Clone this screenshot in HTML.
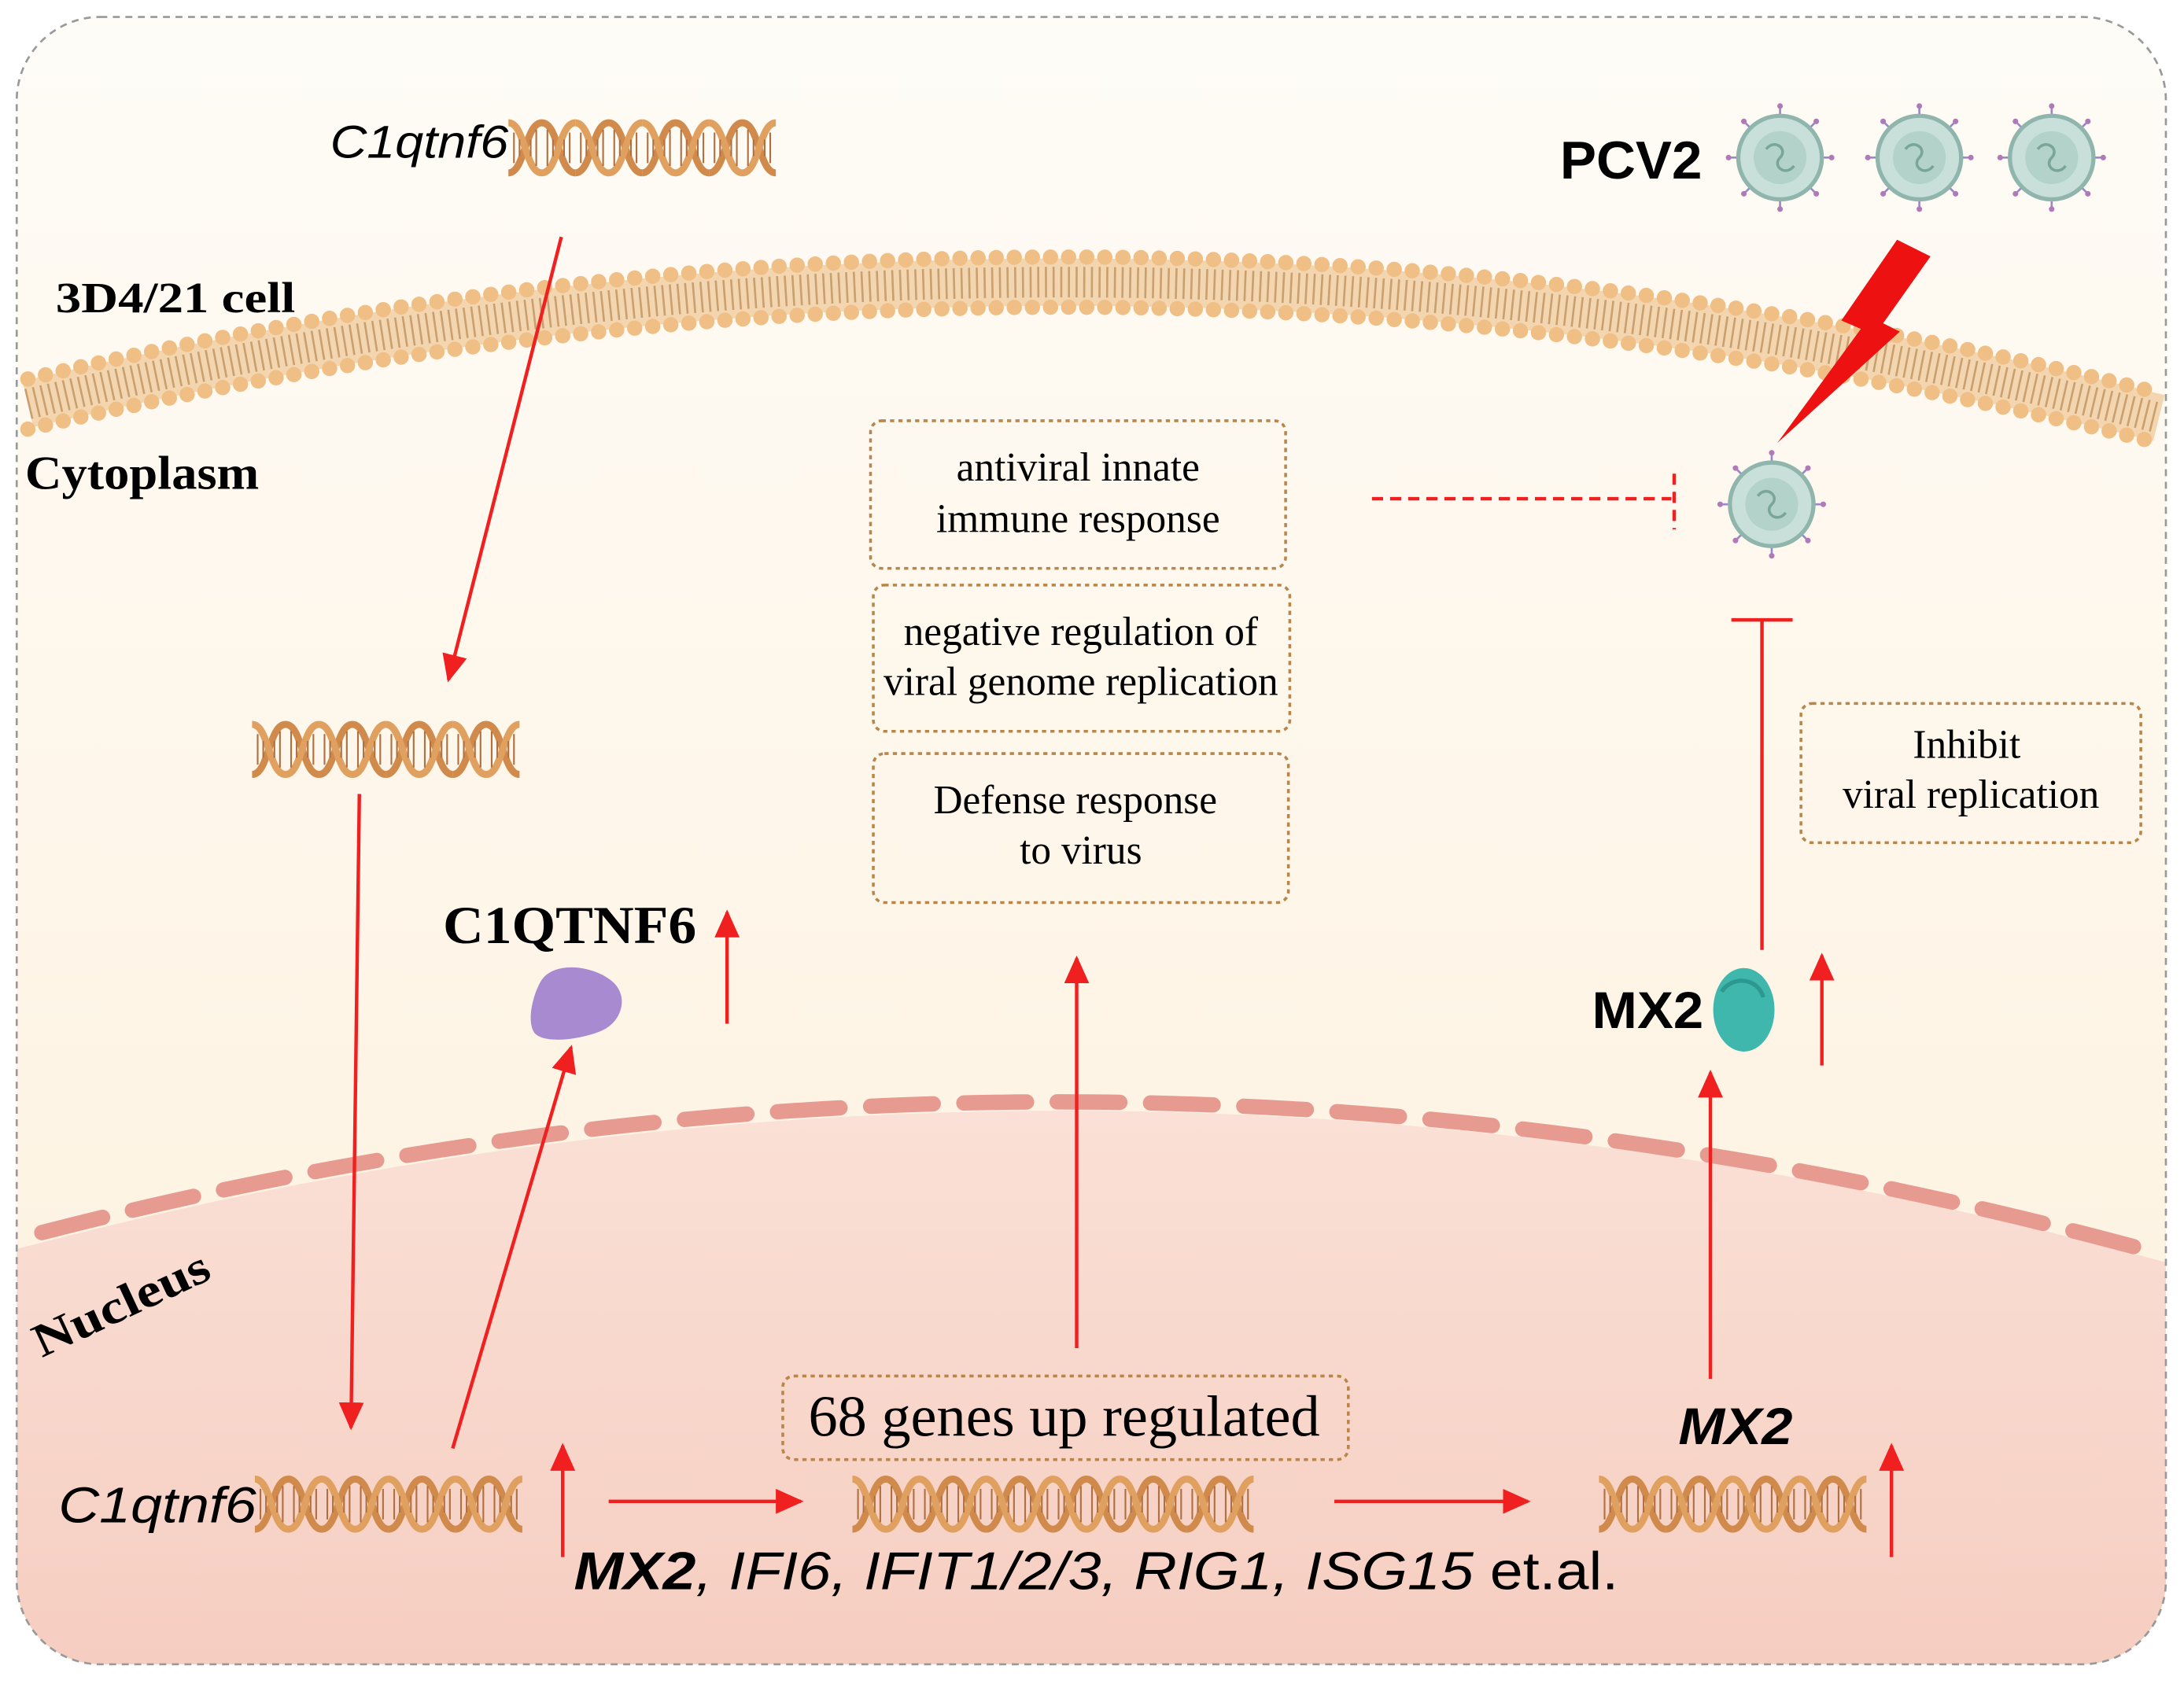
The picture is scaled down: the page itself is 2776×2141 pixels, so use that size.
<!DOCTYPE html>
<html><head><meta charset="utf-8"><style>html,body{margin:0;padding:0;background:#fff}svg{display:block}</style></head>
<body>
<svg width="2776" height="2141" viewBox="0 0 1568 1209" xmlns="http://www.w3.org/2000/svg">
<defs>
<linearGradient id="cyto" x1="0" y1="0" x2="0" y2="1">
<stop offset="0" stop-color="#fefcf7"/><stop offset="1" stop-color="#fdf0dc"/></linearGradient>
<linearGradient id="nuc" x1="0" y1="0" x2="0" y2="1">
<stop offset="0" stop-color="#fae0d6"/><stop offset="1" stop-color="#f6cdc0"/></linearGradient>
<clipPath id="frame"><rect x="12" y="12" width="1543" height="1183" rx="60"/></clipPath>
<g id="per">
<path d="M0,36 C12,36 12,0 24,0 C36,0 36,36 48,36" fill="none" stroke="#d08a4c" stroke-width="5"/>
<path d="M0,0 C12,0 12,36 24,36 C36,36 36,0 48,0" fill="none" stroke="#e0a060" stroke-width="5"/>
<path d="M4,7v22M8,12v12M16,12v12M20,5v26M28,5v26M32,12v12M40,12v12M44,7v22" stroke="#b07040" stroke-width="1.2"/>
</g>
<g id="dna4"><use href="#per" x="0"/><use href="#per" x="48"/><use href="#per" x="96"/><use href="#per" x="144"/></g>
<g id="virus">
<g stroke="#9a88c8" stroke-width="1.5">
<path d="M0,-36V-28M0,36V28M-36,0H-28M36,0H28M25,25L20,20M-25,-25L-20,-20M25,-25L20,-20M-25,25L-20,20"/></g>
<g fill="#b07ab8"><circle cx="0" cy="-37" r="2"/><circle cx="0" cy="37" r="2"/><circle cx="-37" cy="0" r="2"/><circle cx="37" cy="0" r="2"/><circle cx="26" cy="26" r="2"/><circle cx="-26" cy="-26" r="2"/><circle cx="26" cy="-26" r="2"/><circle cx="-26" cy="26" r="2"/></g>
<circle r="30" fill="#c9e0da" stroke="#8fb5ad" stroke-width="3"/>
<circle r="19" fill="#b3d2ca"/>
<path d="M-10,-6 C-4,-14 6,-6 0,0 C-6,6 4,14 10,6" fill="none" stroke="#7aa59b" stroke-width="2"/>
</g>
<marker id="ah2" markerWidth="20" markerHeight="18" refX="18" refY="9" orient="auto" markerUnits="userSpaceOnUse"><path d="M0,0L20,9L0,18z" fill="#f02020"/></marker>
</defs>
<g clip-path="url(#frame)">
<rect x="0" y="0" width="1568" height="1209" fill="url(#cyto)"/>
<path d="M0,900 Q780,690 1568,910 V1209 H0z" fill="url(#nuc)"/>
</g>
<rect x="12" y="12" width="1543" height="1183" rx="60" fill="none" stroke="#999" stroke-width="1.5" stroke-dasharray="5 4"/>
<!-- membrane -->
<path d="M20,290 Q785,110 1550,300" fill="none" stroke="#f3d6b0" stroke-width="34"/>
<path d="M20,290 Q785,110 1550,300" fill="none" stroke="#c9a070" stroke-width="22" stroke-dasharray="1.5 4"/>
<path d="M20,272 Q785,92 1550,282" fill="none" stroke="#f0bf85" stroke-width="11" stroke-linecap="round" stroke-dasharray="0 13"/>
<path d="M20,308 Q785,128 1550,318" fill="none" stroke="#f0bf85" stroke-width="11" stroke-linecap="round" stroke-dasharray="0 13"/>
<!-- nuclear envelope -->
<path d="M30,885 Q785,690 1550,900" fill="none" stroke="#e79a8f" stroke-width="11" stroke-dasharray="45 22" stroke-linecap="round"/>
<!-- texts -->
<g font-family="Liberation Sans, sans-serif" lengthAdjust="spacingAndGlyphs">
<text x="237" y="113" font-size="33" font-style="italic" textLength="128" lengthAdjust="spacingAndGlyphs">C1qtnf6</text>
<text x="1120" y="128" font-size="38" font-weight="bold" textLength="102" lengthAdjust="spacingAndGlyphs">PCV2</text>
<text x="42" y="1093" font-size="36" font-style="italic" textLength="142" lengthAdjust="spacingAndGlyphs">C1qtnf6</text>
<text x="1205" y="1037" font-size="37" font-style="italic" font-weight="bold" textLength="82" lengthAdjust="spacingAndGlyphs">MX2</text>
<text x="1143" y="738" font-size="37" font-weight="bold" textLength="80" lengthAdjust="spacingAndGlyphs">MX2</text>
<text x="412" y="1141" font-size="38" font-style="italic" textLength="750" lengthAdjust="spacingAndGlyphs"><tspan font-weight="bold">MX2</tspan>, IFI6, IFIT1/2/3, RIG1, ISG15 <tspan font-style="normal">et.al.</tspan></text>
</g>
<g font-family="Liberation Serif, serif">
<text x="40" y="224" font-size="31" font-weight="bold" textLength="172" lengthAdjust="spacingAndGlyphs">3D4/21 cell</text>
<text x="18" y="351" font-size="34" font-weight="bold" textLength="168" lengthAdjust="spacingAndGlyphs">Cytoplasm</text>
<text x="318" y="677" font-size="38" font-weight="bold" textLength="182" lengthAdjust="spacingAndGlyphs">C1QTNF6</text>
<text x="30" y="975" font-size="34" font-weight="bold" transform="rotate(-25 30 975)" textLength="136" lengthAdjust="spacingAndGlyphs">Nucleus</text>
<g font-size="29" text-anchor="middle">
<text x="774" y="345">antiviral innate</text><text x="774" y="382">immune response</text>
<text x="776" y="463">negative regulation of</text><text x="776" y="499">viral genome replication</text>
<text x="772" y="584">Defense response</text><text x="776" y="620">to virus</text>
<text x="1412" y="544">Inhibit</text><text x="1415" y="580">viral replication</text>
</g>
<text x="764" y="1031" font-size="42" text-anchor="middle">68 genes up regulated</text>
</g>
<g fill="none" stroke="#b8864a" stroke-width="2" stroke-dasharray="3 3">
<rect x="625" y="302" width="298" height="106" rx="8"/>
<rect x="627" y="420" width="299" height="105" rx="8"/>
<rect x="627" y="541" width="298" height="107" rx="8"/>
<rect x="1293" y="505" width="244" height="100" rx="8"/>
<rect x="562" y="988" width="406" height="60" rx="8"/>
</g>
<!-- DNA -->
<use href="#dna4" x="365" y="88"/>
<use href="#dna4" x="181" y="520"/>
<use href="#dna4" x="183" y="1062"/>
<use href="#dna4" x="612" y="1062"/><use href="#per" x="804" y="1062"/><use href="#per" x="852" y="1062"/>
<use href="#dna4" x="1148" y="1062"/>
<!-- viruses -->
<use href="#virus" x="1278" y="113"/>
<use href="#virus" x="1378" y="113"/>
<use href="#virus" x="1473" y="113"/>
<use href="#virus" x="1272" y="362"/>
<!-- lightning -->
<path d="M1362,172 L1386,184 L1352,232 L1364,238 L1276,318 L1336,236 L1322,230z" fill="#ee1111"/>
<!-- blobs -->
<path d="M388,705 C396,690 425,692 440,705 C452,716 446,734 432,740 C418,746 392,750 384,742 C378,734 382,716 388,705z" fill="#a88ad0"/>
<ellipse cx="1252" cy="725" rx="22" ry="30" fill="#3fb7ad"/>
<path d="M1236,712 C1244,700 1262,702 1266,716" fill="none" stroke="#2d9890" stroke-width="3"/>
<!-- arrows -->
<g stroke="#f02020" stroke-width="2.5" fill="none" marker-end="url(#ah2)">
<line x1="403" y1="170" x2="322" y2="488"/>
<line x1="258" y1="570" x2="252" y2="1025"/>
<line x1="325" y1="1040" x2="410" y2="752"/>
<line x1="522" y1="735" x2="522" y2="655"/>
<line x1="404" y1="1118" x2="404" y2="1038"/>
<line x1="437" y1="1078" x2="575" y2="1078"/>
<line x1="958" y1="1078" x2="1097" y2="1078"/>
<line x1="773" y1="968" x2="773" y2="688"/>
<line x1="1228" y1="990" x2="1228" y2="770"/>
<line x1="1308" y1="765" x2="1308" y2="686"/>
<line x1="1358" y1="1118" x2="1358" y2="1038"/>
</g>
<g stroke="#f02020" stroke-width="2.5">
<line x1="1265" y1="682" x2="1265" y2="445"/>
<line x1="1243" y1="445" x2="1287" y2="445"/>
<line x1="985" y1="358" x2="1200" y2="358" stroke-dasharray="8 5"/>
<line x1="1202" y1="340" x2="1202" y2="380" stroke-dasharray="8 5"/>
</g>
</svg>
</body></html>
